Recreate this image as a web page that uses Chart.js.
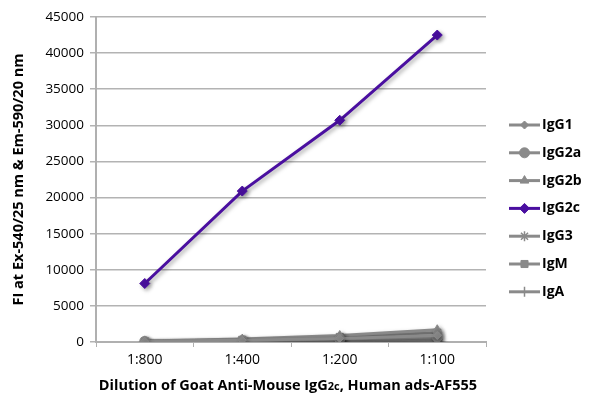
<!DOCTYPE html>
<html><head><meta charset="utf-8">
<script src="https://cdn.jsdelivr.net/npm/chart.js@4/dist/chart.umd.min.js"></script>
<style>html,body{margin:0;padding:0;background:#fff}#wrap{width:600px;height:413px;position:relative}</style>
</head><body><div id="wrap"><canvas id="c" width="600" height="413"></canvas></div>
<script>
const categories = ["1:800", "1:400", "1:200", "1:100"];
const seriesNames = ["IgG1", "IgG2a", "IgG2b", "IgG2c", "IgG3", "IgM", "IgA"];
const IgG1  = [100, 250, 500, 900];
const IgG2a = [80, 200, 400, 700];
const IgG2b = [150, 400, 900, 1700];
const IgG2c = [8100, 20900, 30700, 42500];
const IgG3  = [50, 100, 200, 400];
const IgM   = [100, 300, 700, 1300];
const IgA   = [50, 100, 150, 300];
const yTicks = [0, 5000, 10000, 15000, 20000, 25000, 30000, 35000, 40000, 45000];

const FONT = "'Open Sans', 'Noto Sans', sans-serif";
const GRAY = '#8a8a8a';
const PURPLE = '#4a0fa0';
const values = [IgG1, IgG2a, IgG2b, IgG2c, IgG3, IgM, IgA];
const styles = ['rectRot', 'circle', 'triangle', 'rectRot', 'star', 'rect', 'cross'];
const radii = [4, 5, 5, 5, 5, 5, 5];

const datasets = seriesNames.map((n, i) => ({
  label: n,
  data: values[i],
  borderColor: n === 'IgG2c' ? PURPLE : GRAY,
  backgroundColor: n === 'IgG2c' ? PURPLE : GRAY,
  borderWidth: 3,
  pointStyle: styles[i],
  pointRadius: radii[i],
  pointBorderWidth: (styles[i] === 'star' || styles[i] === 'cross') ? 1.5 : 1,
  tension: 0,
  order: n === 'IgG2c' ? 0 : 1
}));

const shadowPlugin = {
  id: 'shadow',
  beforeDatasetsDraw(chart) {
    const ctx = chart.ctx; ctx.save();
    ctx.shadowColor = 'rgba(0,0,0,0.35)'; ctx.shadowBlur = 4; ctx.shadowOffsetX = 2; ctx.shadowOffsetY = 2;
  },
  afterDatasetsDraw(chart) { chart.ctx.restore(); }
};

const legendPlugin = {
  id: 'customLegend',
  afterDraw(chart) {
    const ctx = chart.ctx;
    ctx.save();
    const x0 = 509, x1 = 540, tx = 542, y0 = 125, dy = 27.8;
    chart.data.datasets.forEach((ds, i) => {
      const y = y0 + i * dy;
      ctx.strokeStyle = ds.borderColor; ctx.lineWidth = 3;
      ctx.beginPath(); ctx.moveTo(x0, y); ctx.lineTo(x1, y); ctx.stroke();
      ctx.fillStyle = ds.backgroundColor; ctx.strokeStyle = ds.borderColor; ctx.lineWidth = ds.pointBorderWidth;
      Chart.helpers.drawPoint(ctx, {pointStyle: ds.pointStyle, radius: ds.pointRadius, borderWidth: ds.pointBorderWidth, rotation: 0}, (x0 + x1) / 2, y);
      ctx.fillStyle = '#000'; ctx.font = "bold 14px " + FONT; ctx.textBaseline = 'middle'; ctx.textAlign = 'left';
      ctx.fillText(ds.label, tx, y);
    });
    const parts = [["Dilution of Goat Anti-Mouse IgG", 14.5], ["2c", 11], [", Human ads-AF555", 14.5]];
    let w = 0;
    parts.forEach(p => { ctx.font = "bold " + p[1] + "px " + FONT; w += ctx.measureText(p[0]).width; });
    let x = 288 - w / 2; const y = 390;
    ctx.textAlign = 'left'; ctx.textBaseline = 'alphabetic'; ctx.fillStyle = '#000';
    parts.forEach(p => { ctx.font = "bold " + p[1] + "px " + FONT; ctx.fillText(p[0], x, y); x += ctx.measureText(p[0]).width; });
    ctx.restore();
  }
};

new Chart(document.getElementById('c'), {
  type: 'line',
  data: { labels: categories, datasets },
  options: {
    responsive: false, animation: false, devicePixelRatio: 1,
    layout: { padding: { left: 0, top: 17, right: 114, bottom: 0 } },
    plugins: { legend: { display: false }, tooltip: { enabled: false } },
    scales: {
      x: {
        offset: true,
        grid: { display: true, drawOnChartArea: false, offset: true, tickLength: 5, color: '#b0b0b0', lineWidth: 1 },
        border: { color: '#b0b0b0', width: 2 },
        ticks: { color: '#000', font: { family: FONT, size: 14 }, padding: 5 },
        afterFit(s) { s.height = 71; }
      },
      y: {
        min: 0, max: 45000,
        afterBuildTicks(s) { s.ticks = yTicks.map(v => ({ value: v })); },
        grid: { color: '#b3b3b3', lineWidth: 1.5, tickLength: 6 },
        border: { color: '#b0b0b0', width: 2 },
        ticks: { color: '#000', font: { family: FONT, size: 13.5 }, padding: 6, callback: v => String(v) },
        title: { display: true, text: 'FI at Ex-540/25 nm & Em-590/20 nm', color: '#000', font: { family: FONT, size: 14.5, weight: 'bold' }, padding: { top: 10, bottom: 4 } },
        afterFit(s) { s.width = 96; }
      }
    }
  },
  plugins: [shadowPlugin, legendPlugin]
});
</script></body></html>
